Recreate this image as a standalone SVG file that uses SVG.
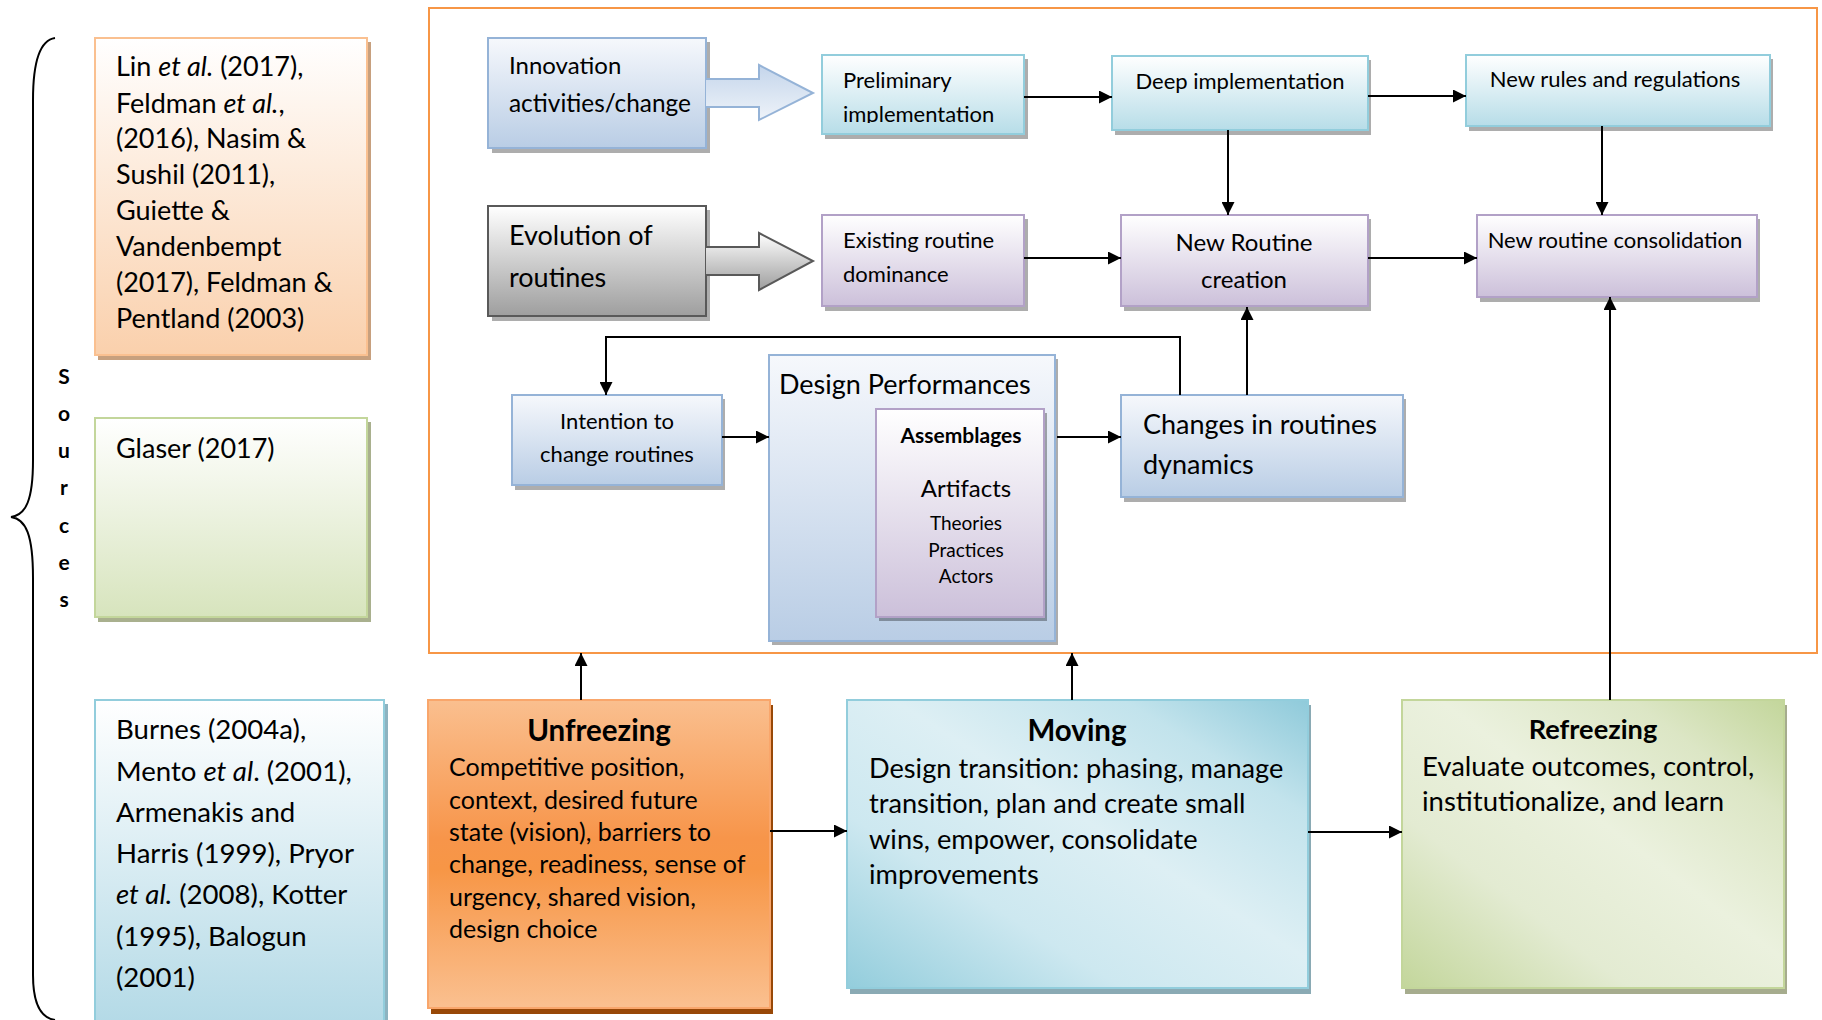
<svg xmlns="http://www.w3.org/2000/svg" width="1822" height="1020" viewBox="0 0 1822 1020">
  <style>
    text { font-family: Lato, "Liberation Sans", "DejaVu Sans", sans-serif; fill: #000; }
    .b { font-weight: 700; }
    .i { font-style: italic; }
    .c { text-anchor: middle; }
    .shd { fill: #000; opacity: 0.32; }
    .con { fill: none; stroke: #000; stroke-width: 2; }
    .arr { marker-end: url(#head); }
  </style>
  <defs>
    <marker id="head" viewBox="0 0 12 12" refX="12" refY="6" markerWidth="13" markerHeight="13" markerUnits="userSpaceOnUse" orient="auto">
      <path d="M0,0 L12,6 L0,12 Z" fill="#000"/>
    </marker>
    <linearGradient id="gSteel" x1="0" y1="0" x2="0" y2="1">
      <stop offset="0" stop-color="#F6F8FC"/>
      <stop offset="1" stop-color="#B9CDE5"/>
    </linearGradient>
    <linearGradient id="gAqua" x1="0" y1="0" x2="0" y2="1">
      <stop offset="0" stop-color="#FFFFFF"/>
      <stop offset="1" stop-color="#B7DDE8"/>
    </linearGradient>
    <linearGradient id="gLilac" x1="0" y1="0" x2="0" y2="1">
      <stop offset="0" stop-color="#FFFFFF"/>
      <stop offset="1" stop-color="#CCC0DA"/>
    </linearGradient>
    <linearGradient id="gGray" x1="0" y1="0" x2="0" y2="1">
      <stop offset="0" stop-color="#FFFFFF"/>
      <stop offset="1" stop-color="#9E9E9E"/>
    </linearGradient>
    <linearGradient id="gArrowBlue" x1="0" y1="0" x2="0" y2="1">
      <stop offset="0" stop-color="#C4D5EB"/>
      <stop offset="1" stop-color="#EEF3F9"/>
    </linearGradient>
    <linearGradient id="gSrcOrange" x1="0" y1="0" x2="0" y2="1">
      <stop offset="0" stop-color="#FFFFFF"/>
      <stop offset="1" stop-color="#FAD0AC"/>
    </linearGradient>
    <linearGradient id="gSrcGreen" x1="0" y1="0" x2="0" y2="1">
      <stop offset="0" stop-color="#FFFFFF"/>
      <stop offset="1" stop-color="#D7E4BD"/>
    </linearGradient>
    <linearGradient id="gSrcBlue" x1="0" y1="0" x2="0" y2="1">
      <stop offset="0" stop-color="#FFFFFF"/>
      <stop offset="1" stop-color="#B2D9E6"/>
    </linearGradient>
    <linearGradient id="gUnfreeze" x1="0" y1="0" x2="0" y2="1">
      <stop offset="0" stop-color="#FABF8F"/>
      <stop offset="0.45" stop-color="#F7954A"/>
      <stop offset="0.55" stop-color="#F79646"/>
      <stop offset="1" stop-color="#FAC090"/>
    </linearGradient>
    <linearGradient id="gMoving" x1="0" y1="1" x2="1" y2="0">
      <stop offset="0" stop-color="#93CDDC"/>
      <stop offset="0.3" stop-color="#CDE8F0"/>
      <stop offset="0.55" stop-color="#DDEFF4"/>
      <stop offset="0.8" stop-color="#C2E3EC"/>
      <stop offset="1" stop-color="#8FCADA"/>
    </linearGradient>
    <linearGradient id="gRefreeze" x1="0" y1="1" x2="1" y2="0">
      <stop offset="0" stop-color="#C3D69B"/>
      <stop offset="0.3" stop-color="#E3EBD2"/>
      <stop offset="0.55" stop-color="#EBF1DE"/>
      <stop offset="0.8" stop-color="#DCE6C5"/>
      <stop offset="1" stop-color="#C3D69B"/>
    </linearGradient>
    <clipPath id="clipPrelim">
      <rect x="822" y="55" width="202" height="68"/>
    </clipPath>
  </defs>

  <!-- bracket and vertical "Sources" label -->
  <g id="sources-brace">
    <path d="M55,38 C41,40 33,60 33,100 L33,460 C33,500 26,515 11,517 C26,519 33,535 33,578 L33,975 C33,1005 41,1018 55,1020" fill="none" stroke="#000" stroke-width="2"/>
    <text class="b c" font-size="21" x="64" y="384">S</text>
    <text class="b c" font-size="21" x="64" y="421">o</text>
    <text class="b c" font-size="21" x="64" y="458">u</text>
    <text class="b c" font-size="21" x="64" y="495">r</text>
    <text class="b c" font-size="21" x="64" y="533">c</text>
    <text class="b c" font-size="21" x="64" y="570">e</text>
    <text class="b c" font-size="21" x="64" y="607">s</text>
  </g>

  <!-- reference boxes -->
  <g id="src-routines">
    <rect x="98" y="42" width="273" height="318" fill="#C7A07E"/>
    <rect x="95" y="38" width="272" height="317" fill="url(#gSrcOrange)" stroke="#FAC090" stroke-width="2"/>
    <g font-size="27">
      <text x="116" y="76">Lin <tspan class="i">et al.</tspan> (2017),</text>
      <text x="116" y="113">Feldman <tspan class="i">et al.</tspan>,</text>
      <text x="116" y="148">(2016), Nasim &amp;</text>
      <text x="116" y="184">Sushil (2011),</text>
      <text x="116" y="220">Guiette &amp;</text>
      <text x="116" y="256">Vandenbempt</text>
      <text x="116" y="292">(2017), Feldman &amp;</text>
      <text x="116" y="328">Pentland (2003)</text>
    </g>
  </g>

  <g id="src-design">
    <rect x="98" y="422" width="273" height="200" fill="#A9B08E"/>
    <rect x="95" y="418" width="272" height="199" fill="url(#gSrcGreen)" stroke="#C3D69B" stroke-width="2"/>
    <text x="116" y="458" font-size="27">Glaser (2017)</text>
  </g>

  <g id="src-change">
    <rect x="98" y="704" width="290" height="330" fill="#8DB3C0"/>
    <rect x="95" y="700" width="289" height="330" fill="url(#gSrcBlue)" stroke="#92CDDC" stroke-width="2"/>
    <g font-size="27.6">
      <text x="116" y="739">Burnes (2004a),</text>
      <text x="116" y="781">Mento <tspan class="i">et al</tspan>. (2001),</text>
      <text x="116" y="822">Armenakis and</text>
      <text x="116" y="863">Harris (1999), Pryor</text>
      <text x="116" y="904"><tspan class="i">et al.</tspan> (2008), Kotter</text>
      <text x="116" y="946">(1995), Balogun</text>
      <text x="116" y="987">(2001)</text>
    </g>
  </g>

  <!-- outer frame around the routine model -->
  <g id="model-frame">
    <rect x="429" y="8" width="1388" height="645" fill="none" stroke="#F79646" stroke-width="2"/>
  </g>

  <!-- routine model nodes -->
  <g id="innovation">
    <rect x="492" y="42" width="218" height="111" class="shd"/>
    <rect x="488" y="38" width="218" height="110" fill="url(#gSteel)" stroke="#95B3D7" stroke-width="2"/>
    <text x="509" y="74" font-size="24">Innovation</text>
    <text x="509" y="112" font-size="24.4">activities/change</text>
  </g>

  <g id="preliminary">
    <rect x="825" y="59" width="203" height="80" class="shd"/>
    <rect x="822" y="55" width="202" height="79" fill="url(#gAqua)" stroke="#92CDDC" stroke-width="2"/>
    <g clip-path="url(#clipPrelim)" font-size="22">
      <text x="843" y="88">Preliminary</text>
      <text x="843" y="122">implementation</text>
    </g>
  </g>

  <g id="deep">
    <rect x="1115" y="60" width="256" height="75" class="shd"/>
    <rect x="1112" y="56" width="256" height="74" fill="url(#gAqua)" stroke="#92CDDC" stroke-width="2"/>
    <text class="c" x="1240" y="89" font-size="22">Deep implementation</text>
  </g>

  <g id="new-rules">
    <rect x="1469" y="59" width="304" height="72" class="shd"/>
    <rect x="1466" y="55" width="304" height="71" fill="url(#gAqua)" stroke="#92CDDC" stroke-width="2"/>
    <text class="c" x="1615" y="87" font-size="22">New rules and regulations</text>
  </g>

  <g id="evolution">
    <rect x="492" y="210" width="218" height="111" class="shd"/>
    <rect x="488" y="206" width="218" height="110" fill="url(#gGray)" stroke="#595959" stroke-width="2"/>
    <text x="509" y="245" font-size="27">Evolution of</text>
    <text x="509" y="287" font-size="27">routines</text>
  </g>

  <g id="existing">
    <rect x="825" y="219" width="203" height="92" class="shd"/>
    <rect x="822" y="215" width="202" height="91" fill="url(#gLilac)" stroke="#B2A1C7" stroke-width="2"/>
    <text x="843" y="248" font-size="22">Existing routine</text>
    <text x="843" y="282" font-size="22">dominance</text>
  </g>

  <g id="new-routine">
    <rect x="1124" y="219" width="247" height="92" class="shd"/>
    <rect x="1121" y="215" width="247" height="91" fill="url(#gLilac)" stroke="#B2A1C7" stroke-width="2"/>
    <text class="c" x="1244" y="251" font-size="24">New Routine</text>
    <text class="c" x="1244" y="288" font-size="24">creation</text>
  </g>

  <g id="consolidation">
    <rect x="1480" y="219" width="280" height="83" class="shd"/>
    <rect x="1477" y="215" width="280" height="82" fill="url(#gLilac)" stroke="#B2A1C7" stroke-width="2"/>
    <text class="c" x="1615" y="248" font-size="22">New routine consolidation</text>
  </g>

  <g id="intention">
    <rect x="515" y="399" width="210" height="91" class="shd"/>
    <rect x="512" y="395" width="210" height="90" fill="url(#gSteel)" stroke="#95B3D7" stroke-width="2"/>
    <text class="c" x="617" y="429" font-size="22">Intention to</text>
    <text class="c" x="617" y="462" font-size="22">change routines</text>
  </g>

  <g id="design-performances">
    <rect x="772" y="359" width="286" height="286" class="shd"/>
    <rect x="769" y="355" width="286" height="286" fill="url(#gSteel)" stroke="#95B3D7" stroke-width="2"/>
    <text x="779" y="394" font-size="27">Design Performances</text>
    <g id="assemblages">
      <rect x="879" y="413" width="168" height="208" class="shd"/>
      <rect x="876" y="409" width="168" height="208" fill="url(#gLilac)" stroke="#B2A1C7" stroke-width="2"/>
      <text class="b c" x="961" y="443" font-size="21">Assemblages</text>
      <text class="c" x="966" y="497" font-size="24">Artifacts</text>
      <text class="c" x="966" y="530" font-size="19">Theories</text>
      <text class="c" x="966" y="557" font-size="19">Practices</text>
      <text class="c" x="966" y="583" font-size="19">Actors</text>
    </g>
  </g>

  <g id="changes">
    <rect x="1124" y="399" width="282" height="103" class="shd"/>
    <rect x="1121" y="395" width="282" height="102" fill="url(#gSteel)" stroke="#95B3D7" stroke-width="2"/>
    <text x="1143" y="434" font-size="27">Changes in routines</text>
    <text x="1143" y="474" font-size="27">dynamics</text>
  </g>

  <!-- change-process stages -->
  <g id="unfreezing">
    <rect x="431" y="705" width="342" height="309" fill="#984807"/>
    <rect x="428" y="700" width="342" height="308" fill="url(#gUnfreeze)" stroke="#F9A66B" stroke-width="2"/>
    <text class="b c" x="599" y="741" font-size="29.5">Unfreezing</text>
    <g font-size="25">
      <text x="449" y="776">Competitive position,</text>
      <text x="449" y="809">context, desired future</text>
      <text x="449" y="841">state (vision), barriers to</text>
      <text x="449" y="873">change, readiness, sense of</text>
      <text x="449" y="906">urgency, shared vision,</text>
      <text x="449" y="938">design choice</text>
    </g>
  </g>

  <g id="moving">
    <rect x="850" y="705" width="461" height="289" fill="#8AAAB4"/>
    <rect x="847" y="700" width="461" height="288" fill="url(#gMoving)" stroke="#92CDDC" stroke-width="2"/>
    <text class="b c" x="1077" y="741" font-size="29.5">Moving</text>
    <g font-size="27.2">
      <text x="869" y="778">Design transition: phasing, manage</text>
      <text x="869" y="813">transition, plan and create small</text>
      <text x="869" y="849">wins, empower, consolidate</text>
      <text x="869" y="884">improvements</text>
    </g>
  </g>

  <g id="refreezing">
    <rect x="1405" y="705" width="382" height="289" fill="#A6AC8E"/>
    <rect x="1402" y="700" width="382" height="288" fill="url(#gRefreeze)" stroke="#C3D69B" stroke-width="2"/>
    <text class="b c" x="1593" y="739" font-size="27.2">Refreezing</text>
    <g font-size="27.5">
      <text x="1422" y="776">Evaluate outcomes, control,</text>
      <text x="1422" y="811">institutionalize, and learn</text>
    </g>
  </g>

  <!-- connectors -->
  <g id="connectors">
    <!-- block arrows feeding the two process rows -->
    <path d="M706,79 L759,79 L759,65 L813,93 L759,120 L759,107 L706,107" fill="url(#gArrowBlue)" stroke="#95B3D7" stroke-width="2"/>
    <path d="M706,247 L759,247 L759,233 L813,261 L759,290 L759,275 L706,275" fill="url(#gGray)" stroke="#595959" stroke-width="2"/>

    <path class="con arr" d="M1024,97 L1112,97"/>
    <path class="con arr" d="M1368,96 L1466,96"/>
    <path class="con arr" d="M1228,130 L1228,215"/>
    <path class="con arr" d="M1602,126 L1602,215"/>
    <path class="con arr" d="M1024,258 L1121,258"/>
    <path class="con arr" d="M1368,258 L1477,258"/>
    <path class="con arr" d="M1247,395 L1247,307"/>
    <path class="con arr" d="M1180,395 L1180,337 L606,337 L606,395"/>
    <path class="con arr" d="M722,437 L769,437"/>
    <path class="con arr" d="M1057,437 L1121,437"/>
    <path class="con arr" d="M581,700 L581,653"/>
    <path class="con arr" d="M1072,700 L1072,653"/>
    <path class="con arr" d="M1610,700 L1610,297"/>
    <path class="con arr" d="M770,831 L847,831"/>
    <path class="con arr" d="M1308,832 L1402,832"/>
  </g>
</svg>
